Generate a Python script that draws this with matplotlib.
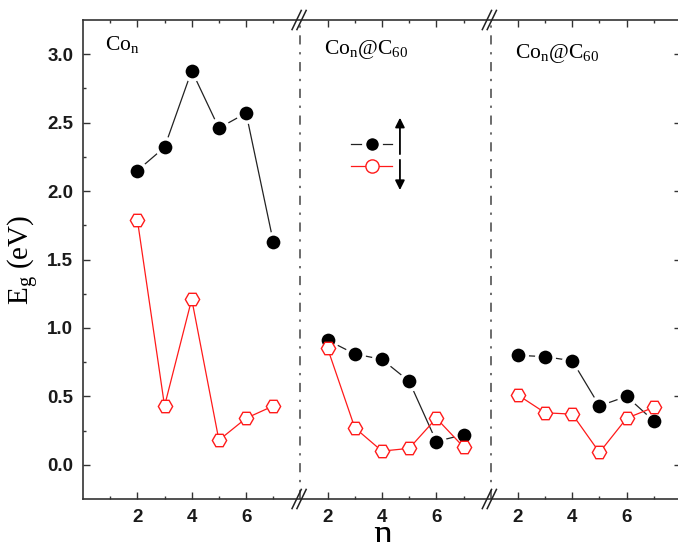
import matplotlib
matplotlib.use("Agg")
import matplotlib.pyplot as plt
from matplotlib.lines import Line2D
import numpy as np

# ---- data ----
n_values = [2, 3, 4, 5, 6, 7]
panel_labels = [r"Co$_\mathregular{n}$", r"Co$_\mathregular{n}$@C$_\mathregular{60}$", r"Co$_\mathregular{n}$@C$_\mathregular{60}$"]
# spin-up (black filled) and spin-down (red open) gaps, eV
up_con = [2.15, 2.32, 2.88, 2.46, 2.57, 1.63]
down_con = [1.79, 0.43, 1.21, 0.18, 0.34, 0.43]
up_c60a = [0.91, 0.81, 0.77, 0.61, 0.17, 0.22]
down_c60a = [0.85, 0.27, 0.10, 0.12, 0.34, 0.13]
up_c60b = [0.80, 0.79, 0.76, 0.43, 0.50, 0.32]
down_c60b = [0.51, 0.38, 0.37, 0.09, 0.34, 0.42]
major_ticks_n = [2, 4, 6]
minor_ticks_n = [1, 3, 5, 7]
y_major = [0.0, 0.5, 1.0, 1.5, 2.0, 2.5, 3.0]

plt.rcParams["mathtext.fontset"] = "custom"
plt.rcParams["mathtext.rm"] = "Liberation Serif"
plt.rcParams["mathtext.it"] = "Liberation Serif:italic"

W, H = 678, 542
fig = plt.figure(figsize=(W / 100, H / 100), dpi=100)
ax = fig.add_axes([83 / W, 1 - 499 / H, 598 / W, 479 / H])

# panel layout: panel 1 spans n in [0, 8]; panels 2, 3 span n in [1, 8]
panel_offsets = [0, 7, 14]
boundaries = [8, 15]

up_series = [up_con, up_c60a, up_c60b]
down_series = [down_con, down_c60a, down_c60b]
spine_col = "#333333"

for off, up, dn in zip(panel_offsets, up_series, down_series):
    xs = np.array(n_values) + off
    ax.plot(xs, up, color="#222222", lw=0.9, marker="o", ms=12.5,
            mfc="black", mec="white", mew=2.6, zorder=3)
    ax.plot(xs, dn, color="#ff1a1a", lw=0.9, marker="H", ms=10.3,
            mfc="white", mec="#ff1a1a", mew=1.0, zorder=4)

for b in boundaries:
    ax.axvline(b, color="#444444", lw=1.1, ls=(0, (6, 5, 1.5, 5)), zorder=1)

ax.set_xlim(0, 22)
ax.set_ylim(-0.25, 3.25)

maj = [m + off for off in panel_offsets for m in major_ticks_n]
mnr = [m + off for off in panel_offsets for m in minor_ticks_n if m + off not in boundaries and not (off > 0 and m == 1)]
ax.set_xticks(maj)
ax.set_xticklabels([str(m) for off in panel_offsets for m in major_ticks_n])
ax.set_xticks(mnr, minor=True)
ax.set_yticks(y_major)
ax.set_yticklabels([f"{v:.1f}" for v in y_major])
ax.set_yticks(np.arange(0.25, 3.25, 0.5), minor=True)

ax.tick_params(which="both", direction="in", top=True, right=True, color=spine_col)
ax.tick_params(which="major", length=5, width=1.0, labelsize=13.5, pad=7)
ax.tick_params(which="minor", length=2.5, width=1.0)
for lab in ax.get_xticklabels() + ax.get_yticklabels():
    lab.set_fontfamily("Liberation Sans")
    lab.set_fontweight("bold")
    lab.set_color("#1a1a1a")
for s in ax.spines.values():
    s.set_linewidth(1.2)
    s.set_color(spine_col)

# axis break marks
trans = ax.get_xaxis_transform()
dx, hx, hy = 0.18, 0.17, 0.02
for b in boundaries:
    for yy in (0.0, 1.0):
        for sgn in (-1, 1):
            cx = b + sgn * dx / 2 - 0.05
            ax.plot([cx - hx, cx + hx], [yy - hy, yy + hy], color="#222222",
                    lw=1.1, transform=trans, clip_on=False, zorder=5)

# labels
ax.set_ylabel(r"E$_\mathregular{g}$ (eV)", fontsize=21, family="Liberation Serif")
ax.yaxis.set_label_coords(-0.07, 0.5)
fig.text(0.5635, -0.006, "n", fontsize=27, family="Liberation Serif", ha="center", va="baseline")

label_pos = [(0.81, 3.03), (8.85, 3.0), (15.9, 2.97)]
for (lx, ly), txt in zip(label_pos, panel_labels):
    ax.text(lx, ly, txt, fontsize=15.5, family="Liberation Serif", ha="left", va="baseline")

# legend key
handles = [Line2D([], [], color="#222222", lw=0.9, marker="o", ms=12,
                  mfc="black", mec="white", mew=3.0),
           Line2D([], [], color="#ff1a1a", lw=0.9, marker="o", ms=9.5,
                  mfc="white", mec="#ff1a1a", mew=1.0)]
leg = ax.legend(handles, [" ", " "], loc="center", bbox_to_anchor=(0.487, 0.717),
                frameon=False, handlelength=2.7, labelspacing=0.45, fontsize=11,
                handletextpad=0.0, borderaxespad=0)
ax.annotate("", xy=(0.530, 0.796), xytext=(0.530, 0.72), xycoords="axes fraction",
            arrowprops=dict(arrowstyle="-|>", color="black", lw=1.3, mutation_scale=14,
                            shrinkA=0, shrinkB=0))
ax.annotate("", xy=(0.530, 0.645), xytext=(0.530, 0.708), xycoords="axes fraction",
            arrowprops=dict(arrowstyle="-|>", color="black", lw=1.3, mutation_scale=14,
                            shrinkA=0, shrinkB=0))

fig.savefig("out.png", dpi=100)
